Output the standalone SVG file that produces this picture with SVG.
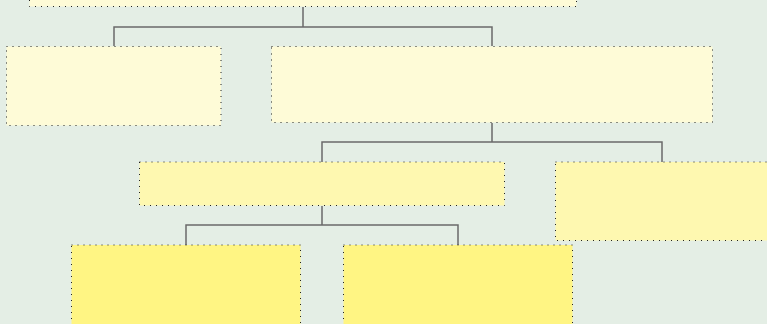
<svg xmlns="http://www.w3.org/2000/svg" width="767" height="324" viewBox="0 0 767 324">
<style>
.n{stroke:#222;stroke-width:1;stroke-dasharray:1 5}
.l1{fill:#fefbd7}
.l2{fill:#fef8b0}
.l3{fill:#fff583}
.c{fill:none;stroke:#6a6a6a;stroke-width:1.5}
</style>
<rect width="767" height="324" fill="#e4eee5"/>
<g id="connectors">
<path class="c" d="M303 7V27M114 46V27H492V46"/>
<path class="c" d="M492 123V142M322 162V142H662V162"/>
<path class="c" d="M322 206V225M186 245V225H458V245"/>
</g>
<g id="root"><rect class="n l1" x="29.5" y="-40" width="547" height="46.5"/></g>
<g id="a"><rect class="n l1" x="6.5" y="46.5" width="214.5" height="79"/></g>
<g id="b"><rect class="n l1" x="271.5" y="46.5" width="441" height="76"/></g>
<g id="c"><rect class="n l2" x="139.5" y="162" width="365" height="43.5"/></g>
<g id="d"><rect class="n l2" x="555.5" y="162" width="220" height="78.5"/></g>
<g id="e"><rect class="n l3" x="71.5" y="245" width="229" height="90"/></g>
<g id="f"><rect class="n l3" x="343.5" y="245" width="229" height="90"/></g>
</svg>
